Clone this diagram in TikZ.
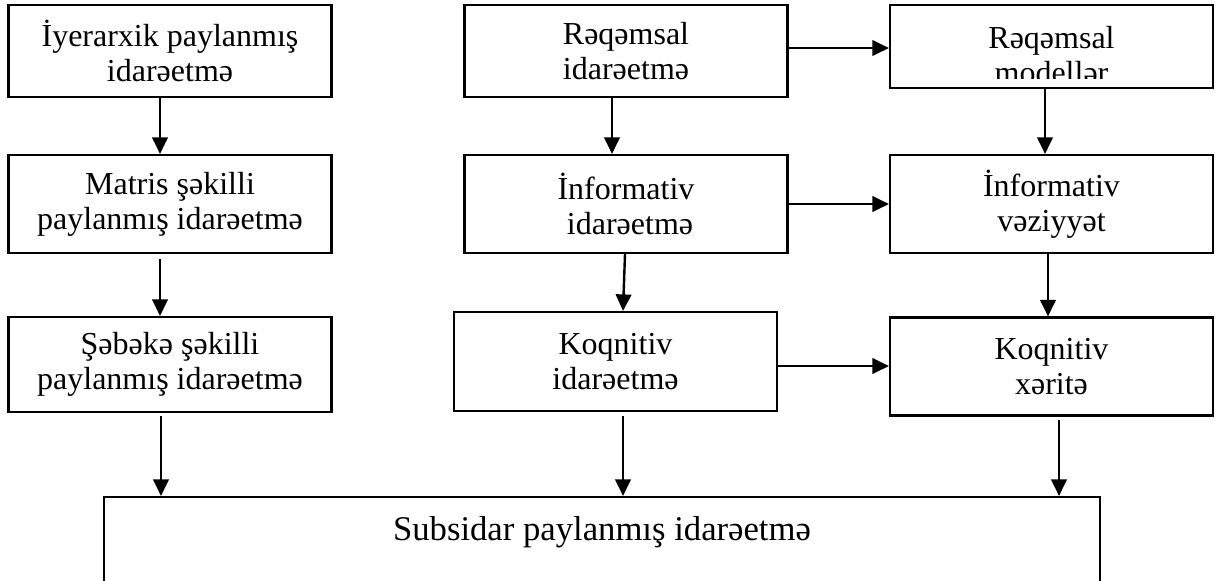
\documentclass[tikz,border=0pt]{standalone}
\usepackage{fontspec}
\setmainfont{Liberation Serif}
\usepackage{tikz}
\usetikzlibrary{arrows.meta,positioning,calc}
\newdimen\pxu
\pxu=0.375pt
\tikzset{
  azbox/.style={
    draw=black, line width=0.8pt,
    minimum width=323\pxu,
    inner sep=0pt,
    align=center,
    font=\fontsize{12}{13.2}\selectfont
  },
  aztext/.style={
    inner sep=0pt,
    align=center,
    font=\fontsize{12}{13.2}\selectfont
  },
  azarrow/.style={-{Triangle[length=6.2pt,width=5.8pt]}, line width=0.9pt, draw=black}
}

\begin{document}
\begin{tikzpicture}[x=0.375pt, y=-0.375pt]
\useasboundingbox (0,0) rectangle (1217,580);

% ---- left column ----
\node[azbox, minimum height=92\pxu] (hier) at (170,51) {İyerarxik paylanmış\\idarəetmə};
\node[azbox, minimum height=98\pxu] (matris) at (170,204) {Matris şəkilli\\paylanmış idarəetmə};
\node[azbox, minimum height=95\pxu] (sebeke) at (170,364.5) {Şəbəkə şəkilli\\paylanmış idarəetmə};

% ---- middle column ----
\node[azbox, minimum height=92\pxu] (reqidare) at (626,51) {Rəqəmsal\\idarəetmə};
\node[azbox, minimum height=98\pxu] (infidare) at (626,204) {İnformativ\\\ idarəetmə};
\node[azbox, minimum height=99\pxu] (koqidare) at (615.5,361.5) {Koqnitiv\\idarəetmə};

% ---- right column ----
\node[azbox, minimum height=83\pxu] (reqmodel) at (1051.5,46.5) {};
\begin{scope}
  \clip (reqmodel.north west) rectangle ([yshift=11\pxu]reqmodel.south east);
  \node[aztext, yshift=-4\pxu] (reqmodeltxt) at (reqmodel |- reqidare) {Rəqəmsal\\modellər};
\end{scope}
\node[azbox, minimum height=98\pxu] (infvez) at (1051.5,204) {İnformativ\\vəziyyət};
\node[azbox, minimum height=98\pxu] (koqxer) at (1051.5,366.5) {Koqnitiv\\xəritə};

% ---- bottom box (runs off the page) ----
\node[azbox, minimum width=996\pxu, text height=43\pxu, text depth=80\pxu,
  font=\fontsize{13}{14}\selectfont, anchor=base] (subsidar) at (602,540)
  {Subsidar paylanmış idarəetmə};

% ---- connectors ----
\draw[azarrow] ([xshift=-10\pxu]hier.south) -- ([xshift=-10\pxu]hier.south |- matris.north);
\draw[azarrow] ([xshift=-10\pxu,yshift=-5\pxu]matris.south) -- ([xshift=-10\pxu]matris.south |- sebeke.north);
\draw[azarrow] ([xshift=-9\pxu,yshift=-3\pxu]sebeke.south) -- ([xshift=-9\pxu]sebeke.south |- subsidar.north);

\draw[azarrow] ([xshift=-14\pxu]reqidare.south) -- ([xshift=-14\pxu]reqidare.south |- infidare.north);
\draw[azarrow] ([xshift=-1\pxu]infidare.south) -- ([xshift=7.5\pxu]koqidare.north);
\draw[azarrow] ([xshift=7.5\pxu,yshift=-4\pxu]koqidare.south) -- ([xshift=7.5\pxu]koqidare.south |- subsidar.north);

\draw[azarrow] ([xshift=-6.5\pxu]reqmodel.south) -- ([xshift=-6.5\pxu]reqmodel.south |- infvez.north);
\draw[azarrow] ([xshift=-3.5\pxu]infvez.south) -- ([xshift=-3.5\pxu]infvez.south |- koqxer.north);
\draw[azarrow] ([xshift=7.5\pxu,yshift=-3\pxu]koqxer.south) -- ([xshift=7.5\pxu]koqxer.south |- subsidar.north);

\draw[azarrow] ([yshift=3\pxu]reqidare.east) -- ([yshift=3\pxu]reqidare.east -| reqmodel.west);
\draw[azarrow] (infidare.east) -- (infidare.east -| infvez.west);
\draw[azarrow] ([yshift=-4.5\pxu]koqidare.east) -- ([yshift=-4.5\pxu]koqidare.east -| koqxer.west);

\end{tikzpicture}
\end{document}
